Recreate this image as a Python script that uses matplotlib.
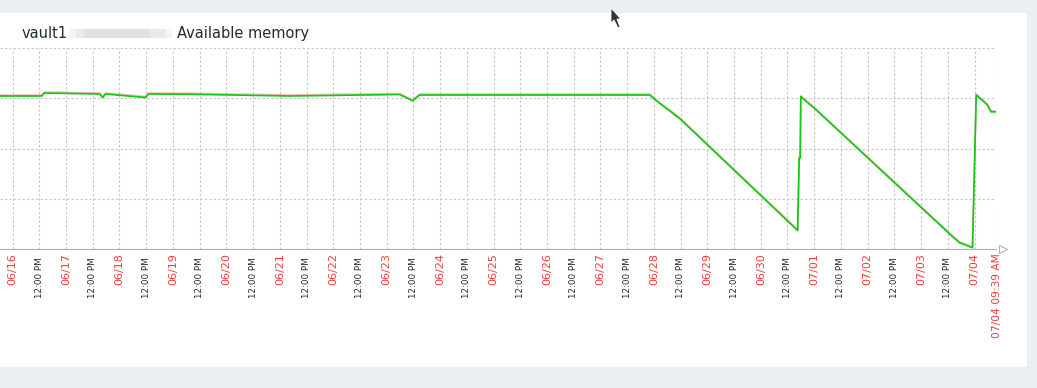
import matplotlib
matplotlib.use("Agg")
import matplotlib.dates as mdates
import matplotlib.pyplot as plt
import matplotlib.transforms as mtransforms
import pandas as pd
from matplotlib.patches import Polygon, Rectangle

# ---------------------------------------------------------------------------
# Data: available memory (arbitrary units, grid lines at 0..4)
# ---------------------------------------------------------------------------
TIMES = [
    "2024-06-15 18:20", "2024-06-16 13:02", "2024-06-16 14:22", "2024-06-17 15:04",
    "2024-06-17 16:25", "2024-06-17 17:46", "2024-06-18 11:44", "2024-06-18 13:05",
    "2024-06-19 07:30", "2024-06-21 04:24", "2024-06-23 05:50", "2024-06-23 11:38",
    "2024-06-23 14:48", "2024-06-27 22:05", "2024-06-28 02:34", "2024-06-28 11:31",
    "2024-06-30 16:34", "2024-06-30 17:15", "2024-06-30 17:42", "2024-06-30 18:00",
    "2024-07-01 00:56", "2024-07-03 14:09", "2024-07-03 17:17", "2024-07-03 23:06",
    "2024-07-04 00:46", "2024-07-04 05:48", "2024-07-04 07:26", "2024-07-04 09:39",
]
VALUES = [
    3.045, 3.045, 3.104, 3.085,
    3.015, 3.085, 3.015, 3.085,
    3.080, 3.045, 3.075, 2.950,
    3.065, 3.065, 2.900, 2.600,
    0.368, 1.810, 1.810, 3.030,
    2.766, 0.245, 0.125, 0.026,
    3.065, 2.866, 2.730, 2.730,
]
X_START = "2024-06-15 18:20"
X_END = "2024-07-04 09:39"
END_LABEL = "07/04 09:39 AM"
TITLE_LEFT = "vault1"
TITLE_RIGHT = "Available memory"

W, H = 1037, 388
BG = "#ebeef2"
TEXT = "#1f2c33"
RED = "#ee3b3b"
GREEN = "#14c814"
GRID = "#c0c6cc"


def px(x, y):
    """Pixel (top-left origin) -> figure fraction."""
    return x / W, 1 - y / H


fig = plt.figure(figsize=(W / 100, H / 100), dpi=100, facecolor=BG)

# white widget panel
fig.patches.append(Rectangle(px(0, 367), 1027 / W, 354 / H,
                             transform=fig.transFigure, facecolor="white",
                             edgecolor="none", zorder=-1))

# title with the blurred host name
fig.text(*px(22, 38), TITLE_LEFT, fontsize=10.5, color=TEXT)
fig.text(*px(177, 38), TITLE_RIGHT, fontsize=10.5, color=TEXT)
for x0, x1, a in [(70, 172, 0.10), (76, 166, 0.12), (84, 150, 0.12)]:
    fig.patches.append(Rectangle(px(x0, 38), (x1 - x0) / W, 9 / H,
                                 transform=fig.transFigure, facecolor="#9aa0a6",
                                 edgecolor="none", alpha=a, zorder=1))

# mouse cursor from the screenshot
cursor = [px(611, 8), px(611, 23), px(614, 20), px(618, 28), px(620, 27),
          px(617, 19), px(621, 19)]
fig.patches.append(Polygon(cursor, closed=True, transform=fig.transFigure,
                           facecolor="#333333", edgecolor="white", lw=0.6,
                           zorder=5))

ax = fig.add_axes([0, 1 - 249 / H, 996 / W, 201 / H])
ax.set_zorder(2)
ax.set_facecolor("white")

t = mdates.date2num(pd.to_datetime(TIMES))
x_start = mdates.date2num(pd.Timestamp(X_START))
x_end = mdates.date2num(pd.Timestamp(X_END))

# max line (light red) slightly above, avg line (green) on top
shift = mtransforms.ScaledTranslation(0, 1.0 / 100, fig.dpi_scale_trans)
ax.plot(t, VALUES, color="#f5a3a3", lw=1.2, alpha=0.7,
        transform=ax.transData + shift, zorder=2, solid_joinstyle="round")
ax.plot(t, VALUES, color=GREEN, lw=1.25, zorder=3, solid_joinstyle="round")

ax.set_xlim(x_start, x_end)
ax.set_ylim(0, 4)

# ticks every 12 hours + the end of the period
days = pd.date_range("2024-06-16", "2024-07-04", freq="12h")
tick_pos = list(mdates.date2num(days)) + [x_end]
ax.set_xticks(tick_pos)
ax.set_xticklabels([])
ax.set_yticks([0, 1, 2, 3, 4])
ax.set_yticklabels([])
ax.tick_params(length=0)
ax.grid(True, color=GRID, linestyle=(0, (2, 2)), lw=0.8)

for d, pos in zip(days, tick_pos):
    if d.hour == 0:
        lab, col, fs, off = d.strftime("%m/%d"), RED, 8, -3
    else:
        lab, col, fs, off = "12:00 PM", TEXT, 6.3, -6
    ax.annotate(lab, (pos, 0), xycoords=("data", "axes fraction"),
                xytext=(0, off), textcoords="offset points", rotation=90,
                ha="center", va="top", fontsize=fs, color=col,
                annotation_clip=False)
ax.annotate(END_LABEL, (x_end, 0), xycoords=("data", "axes fraction"),
            xytext=(1, -3), textcoords="offset points", rotation=90,
            ha="center", va="top", fontsize=7.7, color=RED,
            annotation_clip=False)

for s in ("left", "right", "top"):
    ax.spines[s].set_visible(False)
ax.spines["bottom"].set_color("#aab3bc")
ax.plot([1.007], [0], marker=">", ms=6, mfc="white", mec="#aab3bc",
        mew=0.8, transform=ax.transAxes, clip_on=False)

fig.savefig("out.png", dpi=100, facecolor=BG)
